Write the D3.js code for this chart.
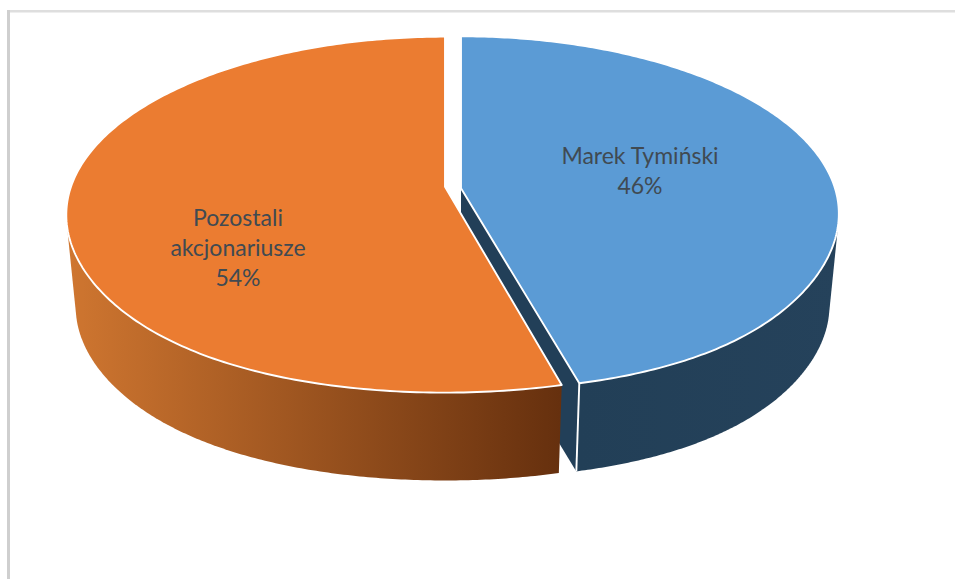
<!DOCTYPE html>
<html lang="pl">
<head>
<meta charset="utf-8">
<script src="https://cdn.jsdelivr.net/npm/d3@7"></script>
<style>
  html, body { margin: 0; padding: 0; background: #fff; }
  svg { display: block; }
  text { font-family: Lato, "Open Sans", sans-serif; font-size: 23px; fill: #404a52; text-anchor: middle; }
</style>
</head>
<body>
<svg id="chart" width="955" height="579"></svg>
<script>
// Shareholder structure
const names = ["Marek Tymiński", "Pozostali akcjonariusze"];
const shares = [46, 54];
const labelLines = [["Marek Tymiński", "46%"], ["Pozostali", "akcjonariusze", "54%"]];
const topColors = ["#5b9bd5", "#eb7c31"];

const W = 955, H = 579;
const svg = d3.select("#chart");
const defs = svg.append("defs");

// Horizontal shading of the outer walls
const wallShades = [["#223f57", "#25425b"], ["#cf7630", "#66300e"]];
wallShades.forEach((stops, i) => {
  const g = defs.append("linearGradient")
    .attr("id", "wall" + i).attr("gradientUnits", "userSpaceOnUse")
    .attr("x1", i ? 68 : 579).attr("x2", i ? 560 : 839).attr("y1", 0).attr("y2", 0);
  g.append("stop").attr("offset", 0).attr("stop-color", stops[0]);
  g.append("stop").attr("offset", 1).attr("stop-color", stops[1]);
});

// Chart-area frame: only the left and top edges are in view
svg.append("rect").attr("x", 7).attr("y", 10).attr("width", W - 7).attr("height", 2.5).attr("fill", "#dedede");
svg.append("rect").attr("x", 7).attr("y", 10).attr("width", 3).attr("height", H - 10).attr("fill", "#cfcfcf");

// Perspective projection of the tilted disc; each slice is pushed out along its own apex
const apex = [[461, 188.3], [445, 186.7]];
const radiusX = 374, radiusY = 173.6;
const perspective = [0.142, 0.157];
const nearWidening = [0.11, 0.073];
const bottomScale = 0.975, drop = 93;

function project(slice, angle, level) {
  const scale = level ? bottomScale : 1;
  const u = Math.sin(angle), v = -Math.cos(angle);
  const depth = 1 / (1 - perspective[slice] * v);
  const widen = 1 + nearWidening[slice] * Math.pow(Math.max(v, 0), 4);
  return [
    apex[slice][0] + scale * radiusX * u * depth * widen,
    apex[slice][1] + (level ? drop : 0) + scale * radiusY * v * depth
  ];
}

const pie = d3.pie().sort(null).startAngle(0).endAngle(2 * Math.PI);
const arcs = pie(shares);
const line = d3.line();
const steps = a => d3.range(0, 241).map(i => a.startAngle + (a.endAngle - a.startAngle) * i / 240);

// Outer wall: the near part of the rim, top and bottom outlines together
function wallPath(slice, from, to) {
  const angles = d3.range(0, 201).map(i => from + (to - from) * i / 200);
  const pts = angles.flatMap(t => [project(slice, t, 0), project(slice, t, 1)]);
  return line(d3.polygonHull(pts)) + "Z";
}

const layerBlue = svg.append("g");
const layerOrange = svg.append("g");
const layers = [layerBlue, layerOrange];
const edge = { stroke: "#fff", "stroke-width": 1.9, "stroke-linejoin": "round" };

arcs.forEach((a, i) => {
  const g = layers[i];
  const center = [apex[i], [apex[i][0], apex[i][1] + drop]];
  if (i === 0) {
    // Cut face of the pulled-out slice, visible beside the neighbour
    const faceTop = project(0, a.endAngle, 0), faceBottom = project(0, a.endAngle, 1);
    g.append("path")
      .attr("d", line([center[0], faceTop, faceBottom, center[1]]) + "Z")
      .attr("fill", "#223f58");
    g.append("path").attr("d", wallPath(0, Math.PI * 0.5, a.endAngle))
      .attr("fill", "url(#wall0)");
    g.append("path").attr("d", line([faceTop, faceBottom])).attr("fill", "none").call(s => {
      Object.entries(edge).forEach(([k, v]) => s.attr(k, v));
    });
  } else {
    g.append("path").attr("d", wallPath(1, a.startAngle, Math.PI * 1.5))
      .attr("fill", "url(#wall1)");
  }
  const rim = steps(a).map(t => project(i, t, 0));
  g.append("path")
    .attr("d", line([apex[i], ...rim]) + "Z")
    .attr("fill", topColors[i])
    .call(s => Object.entries(edge).forEach(([k, v]) => s.attr(k, v)));
});

// Data labels
const labelAnchors = [[640, 164], [238, 226]];
const lineHeight = 30;
svg.append("g").selectAll("text").data(labelLines).join("text")
  .attr("transform", (d, i) => `translate(${labelAnchors[i][0]},${labelAnchors[i][1]})`)
  .selectAll("tspan").data(d => d).join("tspan")
  .attr("x", 0).attr("y", (d, j) => j * lineHeight)
  .text(d => d);
</script>
</body>
</html>
